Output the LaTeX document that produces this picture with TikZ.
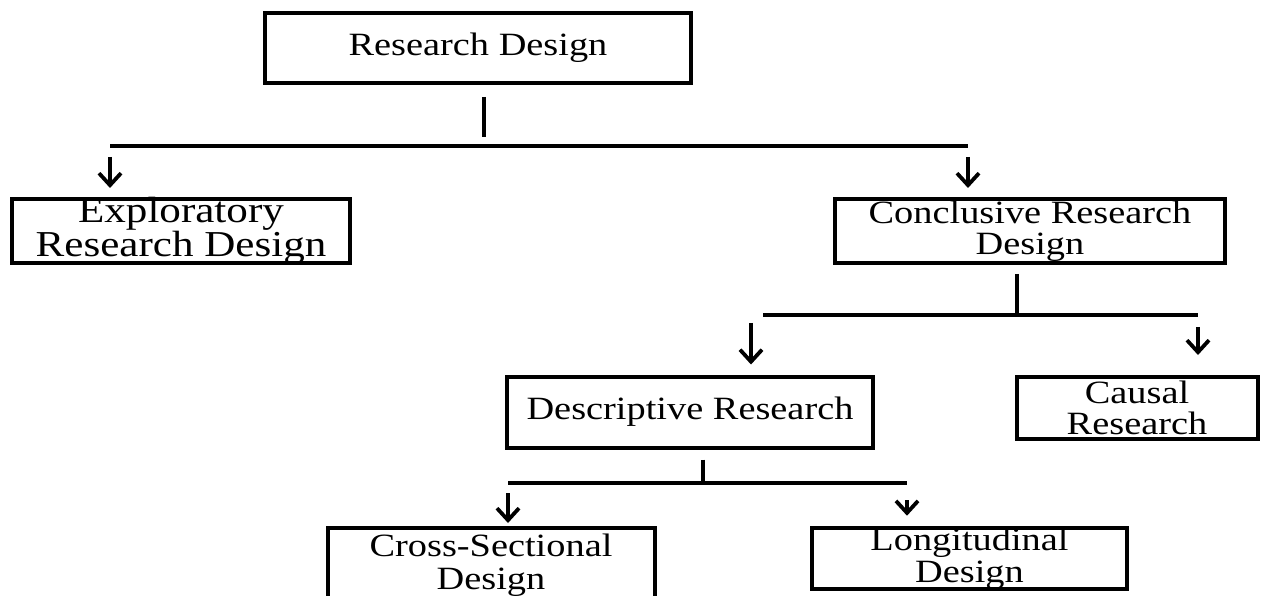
\documentclass[tikz,border=0pt]{standalone}
\usepackage{fontspec}
\setmainfont{Liberation Serif}[FakeStretch=1.18]
\usetikzlibrary{arrows.meta}
\begin{document}
\begin{tikzpicture}[x=1pt, y=-1pt,
  box/.style={draw, line width=4pt, inner sep=0pt, align=center,
    font=\fontsize{32.5}{31}\selectfont},
  wire/.style={line width=3.5pt},
  arr/.style={line width=3.8pt,
    -{Straight Barb[length=12pt, width=22pt, line width=3.8pt]}}]
\useasboundingbox (0,0) rectangle (1262,596);
\clip (0,0) rectangle (1262,596);

% boxes
\node[box, minimum width=426pt, minimum height=70pt] (rd) at (478,48) {Research Design};
\node[box, minimum width=338pt, minimum height=64pt, inner ysep=-3pt,
  font=\fontsize{36.5}{30}\selectfont] (exp) at (181,231) {Exploratory\\Research Design};
\node[box, minimum width=390pt, minimum height=64pt] (con) at (1030,231) {Conclusive Research\\Design};
\node[box, minimum width=366pt, minimum height=71pt] (des) at (690,412) {Descriptive Research};
\node[box, minimum width=241pt, minimum height=62pt] (cau) at (1137,408) {Causal\\Research};
\node[box, minimum width=327pt, minimum height=74pt,
  font=\fontsize{32.5}{33}\selectfont] (cro) at (491,565) {Cross-Sectional\\Design};
\node[box, minimum width=315pt, minimum height=61pt,
  font=\fontsize{32.5}{32}\selectfont] (lon) at (969.5,558.5) {Longitudinal\\Design};

% first level branching
\coordinate (busA) at (484,146);
\coordinate (busAl) at (110,146);
\coordinate (busAr) at (968,146);
\draw[wire, shorten <=12pt, shorten >=9pt] (rd.south -| busA) -- (busA);
\draw[wire] (busAl) -- (busAr);
\draw[arr, shorten <=11pt, shorten >=9pt] (busAl) -- (busAl |- exp.north);
\draw[arr, shorten <=11pt, shorten >=9pt] (busAr) -- (busAr |- con.north);

% conclusive research branching
\coordinate (busB) at (1017,315);
\coordinate (busBl) at (763,315);
\coordinate (busBr) at (1198,315);
\coordinate (desArr) at (751,315);
\draw[wire, shorten <=9pt] (con.south -| busB) -- (busB);
\draw[wire] (busBl) -- (busBr);
\draw[arr, shorten <=8pt, shorten >=10pt] (desArr) -- (desArr |- des.north);
\draw[arr, shorten <=12pt, shorten >=20pt] (busBr) -- (busBr |- cau.north);

% descriptive research branching
\coordinate (busC) at (703,483);
\coordinate (busCl) at (508,483);
\coordinate (busCr) at (907,483);
\draw[wire, shorten <=10pt] (des.south -| busC) -- (busC);
\draw[wire] (busCl) -- (busCr);
\draw[arr, shorten <=10pt, shorten >=3pt] (busCl) -- (busCl |- cro.north);
\draw[arr, shorten <=17pt, shorten >=10pt] (busCr) -- (busCr |- lon.north);
\end{tikzpicture}
\end{document}
